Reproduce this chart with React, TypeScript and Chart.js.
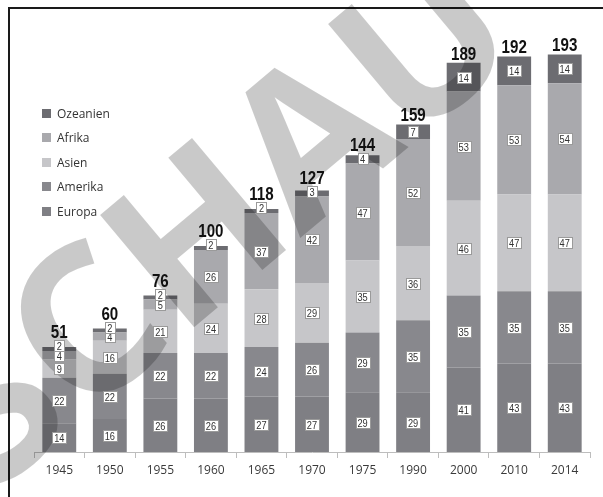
import React, { useEffect, useRef } from "react";
import { Chart, registerables } from "chart.js";

Chart.register(...registerables);

const years = ["1945", "1950", "1955", "1960", "1965", "1970", "1975", "1990", "2000", "2010", "2014"];
const europa = [14, 16, 26, 26, 27, 27, 29, 29, 41, 43, 43];
const amerika = [22, 22, 22, 22, 24, 26, 29, 35, 35, 35, 35];
const asien = [9, 16, 21, 24, 28, 29, 35, 36, 46, 47, 47];
const afrika = [4, 4, 5, 26, 37, 42, 47, 52, 53, 53, 54];
const ozeanien = [2, 2, 2, 2, 2, 3, 4, 7, 14, 14, 14];

const seriesNames = ["Europa", "Amerika", "Asien", "Afrika", "Ozeanien"];
const seriesValues = [europa, amerika, asien, afrika, ozeanien];
const seriesColors = ["#7f7f84", "#88888d", "#c6c6c9", "#a9a9ad", "#6c6c71"];

const SANS = "'Liberation Sans', Arial, sans-serif";
const SQUEEZE = 0.84;

function condensedText(ctx: any, txt: string, x: number, y: number) {
  ctx.save();
  ctx.translate(x, y);
  ctx.scale(SQUEEZE, 1);
  ctx.fillText(txt, 0, 0);
  ctx.restore();
}

const labelPlugin = {
  id: "labels",
  afterDatasetsDraw(chart: any) {
    const ctx = chart.ctx;
    // watermark
    ctx.save();
    ctx.translate(213, 215);
    ctx.rotate(-0.698);
    ctx.font = "bold 205px 'Open Sans', sans-serif";
    ctx.fillStyle = "rgba(0,0,0,0.21)";
    ctx.textAlign = "center";
    ctx.textBaseline = "alphabetic";
    ctx.fillText("SCHAU", 0, 205 * 0.36);
    ctx.restore();

    const n = chart.data.labels.length;
    const last = chart.data.datasets.length - 1;
    const tops: number[] = new Array(n).fill(Infinity);
    ctx.save();
    ctx.font = "11px " + SANS;
    ctx.textAlign = "center";
    ctx.textBaseline = "middle";
    chart.data.datasets.forEach((ds: any, di: number) => {
      const meta = chart.getDatasetMeta(di);
      meta.data.forEach((bar: any, i: number) => {
        const v = ds.data[i];
        const top = bar.y;
        const base = bar.base;
        const h = base - top;
        let cy = (top + base) / 2;
        if (di === last && h < 11) cy = base - 5.5;
        const txt = String(v);
        const tw = ctx.measureText(txt).width * SQUEEZE;
        const bw = Math.max(Math.round(tw + 4), 10);
        const bh = 11;
        const bx = Math.round(bar.x - bw / 2) + 0.5;
        const by = Math.round(cy - bh / 2) + 0.5;
        ctx.fillStyle = "#ffffff";
        ctx.fillRect(bx, by, bw, bh);
        ctx.strokeStyle = "#9a9a9a";
        ctx.lineWidth = 1;
        ctx.strokeRect(bx, by, bw, bh);
        ctx.fillStyle = "#333333";
        condensedText(ctx, txt, bar.x, by + bh / 2 + 0.5);
        tops[i] = Math.min(tops[i], top, by);
      });
    });
    ctx.restore();

    ctx.save();
    ctx.font = "bold 18px " + SANS;
    ctx.textAlign = "center";
    ctx.textBaseline = "alphabetic";
    ctx.fillStyle = "#111111";
    const meta0 = chart.getDatasetMeta(0);
    for (let i = 0; i < n; i++) {
      let total = 0;
      chart.data.datasets.forEach((ds: any) => (total += ds.data[i]));
      condensedText(ctx, String(total), meta0.data[i].x, tops[i] - 3);
    }
    ctx.restore();
  },
};

export default function App() {
  const ref = useRef<HTMLCanvasElement | null>(null);
  useEffect(() => {
    if (!ref.current) return;
    const chart = new Chart(ref.current, {
      type: "bar",
      data: {
        labels: years,
        datasets: seriesNames.map((name, i) => ({
          label: name,
          data: seriesValues[i],
          backgroundColor: seriesColors[i],
          borderWidth: 0,
          barPercentage: 0.67,
          categoryPercentage: 1,
        })),
      },
      options: {
        responsive: false,
        animation: false,
        layout: { padding: { left: 34, right: 13, top: 40, bottom: 14.6 } },
        plugins: { legend: { display: false }, tooltip: { enabled: false } },
        scales: {
          x: {
            stacked: true,
            grid: { offset: true, drawOnChartArea: false, color: "#bdbdbd", tickLength: 6 },
            border: { color: "#bdbdbd" },
            ticks: { font: { family: "'Open Sans', sans-serif", size: 12 }, color: "#3a3a3a", padding: 5 },
          },
          y: { stacked: true, min: 0, max: 200, display: false },
        },
      },
      plugins: [labelPlugin],
    });
    return () => chart.destroy();
  }, []);

  const legendItems = seriesNames.map((n, i) => ({ name: n, color: seriesColors[i] })).reverse();

  return (
    <div style={{ position: "fixed", left: 0, top: 0, width: 603, height: 497, overflow: "hidden", background: "#fff" }}>
      <div
        style={{
          position: "absolute",
          left: 8,
          top: 7,
          right: -10,
          bottom: -10,
          borderTop: "2px solid #1a1a1a",
          borderLeft: "2px solid #1a1a1a",
        }}
      />
      <canvas ref={ref} width={603} height={497} style={{ position: "absolute", left: 0, top: 0, display: "block" }} />
      {legendItems.map((it, i) => (
        <div
          key={it.name}
          style={{
            position: "absolute",
            left: 42,
            top: 104 + i * 24.6,
            height: 18,
            display: "flex",
            alignItems: "center",
            fontFamily: "'Open Sans', sans-serif",
            fontSize: 12,
            color: "#333",
            whiteSpace: "nowrap",
          }}
        >
          <span style={{ display: "inline-block", width: 9, height: 9, background: it.color, marginRight: 6 }} />
          {it.name}
        </div>
      ))}
    </div>
  );
}
